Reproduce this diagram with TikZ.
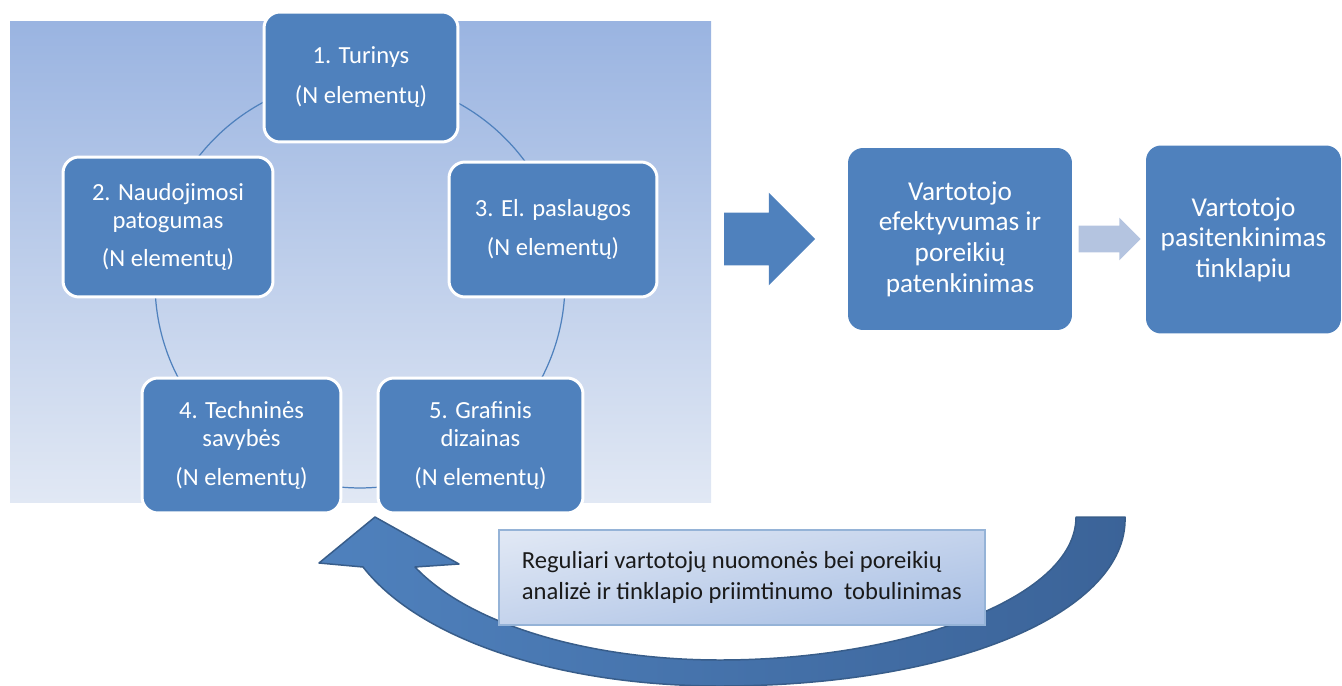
\documentclass[tikz,border=0pt]{standalone}
\usepackage{fontspec}
\setmainfont{Carlito}
\usetikzlibrary{shapes.arrows,shadings}
\definecolor{boxblue}{HTML}{4F81BD}
\definecolor{bgtop}{HTML}{9AB4E1}
\definecolor{bgbottom}{HTML}{E1E8F4}
\definecolor{paleblue}{HTML}{B4C4E0}
\definecolor{loopdark}{HTML}{3B6398}
\definecolor{loopedge}{HTML}{385D8A}
\definecolor{noteedge}{HTML}{95B3D7}
\definecolor{notelight}{HTML}{E2E9F5}
\definecolor{notemid}{HTML}{C4D3EC}
\definecolor{notedark}{HTML}{A5BDE3}
\definecolor{notetext}{HTML}{1A1A1A}

\begin{document}
\begin{tikzpicture}[x=0.02cm, y=-0.02cm,
  every node/.style={font=\fontsize{14}{16}\selectfont},
  cyclebox/.style={rectangle, rounded corners=0.32cm, fill=boxblue, draw=white, line width=1.7pt,
    text=white, align=center, minimum width=4.05cm, minimum height=2.7cm},
  goalbox/.style={rectangle, rounded corners=0.3cm, fill=boxblue, text=white, align=center,
    font=\fontsize{15.5}{17.4}\selectfont},
  blockarrow/.style={single arrow, inner xsep=0pt, single arrow tip angle=90},
  notebox/.style={rectangle, draw=noteedge, line width=1.6pt, text=notetext, align=left,
    upper left=notelight, upper right=notemid, lower left=notemid, lower right=notedark,
    minimum width=9.72cm, minimum height=1.9cm, font=\fontsize{14}{17.5}\selectfont},
]
\useasboundingbox (0,0) rectangle (1342,686);

% CYCLE — left panel
\shade[top color=bgtop, bottom color=bgbottom] (10,22) rectangle (711,502);
\coordinate (hub) at (360,283);
\draw[boxblue, line width=0.7pt] (hub) circle[radius=4.1cm];

\node[cyclebox, minimum width=3.88cm, minimum height=2.6cm] (turinys) at (361,77)
  {1. Turinys\\[7pt](N elementų)};
\node[cyclebox, minimum width=4.2cm, minimum height=2.8cm] (patogumas) at (168,227)
  {2. Naudojimosi\\patogumas\\[6pt](N elementų)};
\node[cyclebox, minimum width=4.16cm] (paslaugos) at (553,229.5)
  {3. El. paslaugos\\[6pt](N elementų)};
\node[cyclebox, minimum width=3.98cm] (savybes) at (241.5,445.5)
  {4. Techninės\\savybės\\[6pt](N elementų)};
\node[cyclebox, minimum width=4.1cm] (dizainas) at (480.5,445.5)
  {5. Grafinis\\dizainas\\[6pt](N elementų)};

% RESULTS — right side
\node[blockarrow, fill=boxblue, minimum height=1.82cm, inner ysep=0.52cm,
  single arrow head extend=0.4cm] (toeff) at (756.5,239) {};
\node[goalbox, minimum width=4.48cm, minimum height=3.64cm] (efektyvumas) at (960,239)
  {Vartotojo\\efektyvumas ir\\poreikių\\patenkinimas};
\node[blockarrow, fill=paleblue, minimum height=1.24cm, inner ysep=0.26cm,
  single arrow head extend=0.16cm] (tosat) at (1103,239) {};
\node[goalbox, minimum width=3.9cm, minimum height=3.76cm] (pasitenkinimas) at (1243.5,239.5)
  {Vartotojo\\pasitenkinimas\\tinklapiu};

% Feedback loop
\shadedraw[left color=boxblue, right color=loopdark, draw=loopedge, line width=0.85pt, line join=round]
  (1125,517) .. controls (1128,610) and (960,686) .. (720,686)
  .. controls (560,686) and (420,640) .. (363,567) -- (319,563) -- (375,517) -- (459,564)
  -- (415,567) .. controls (470,625) and (590,660) .. (720,660)
  .. controls (900,660) and (1076,600) .. (1076,517) -- cycle;
\node[notebox] (analize) at (742,577.5)
  {Reguliari vartotojų nuomonės bei poreikių\\analizė ir tinklapio priimtinumo~ tobulinimas};

\end{tikzpicture}
\end{document}
